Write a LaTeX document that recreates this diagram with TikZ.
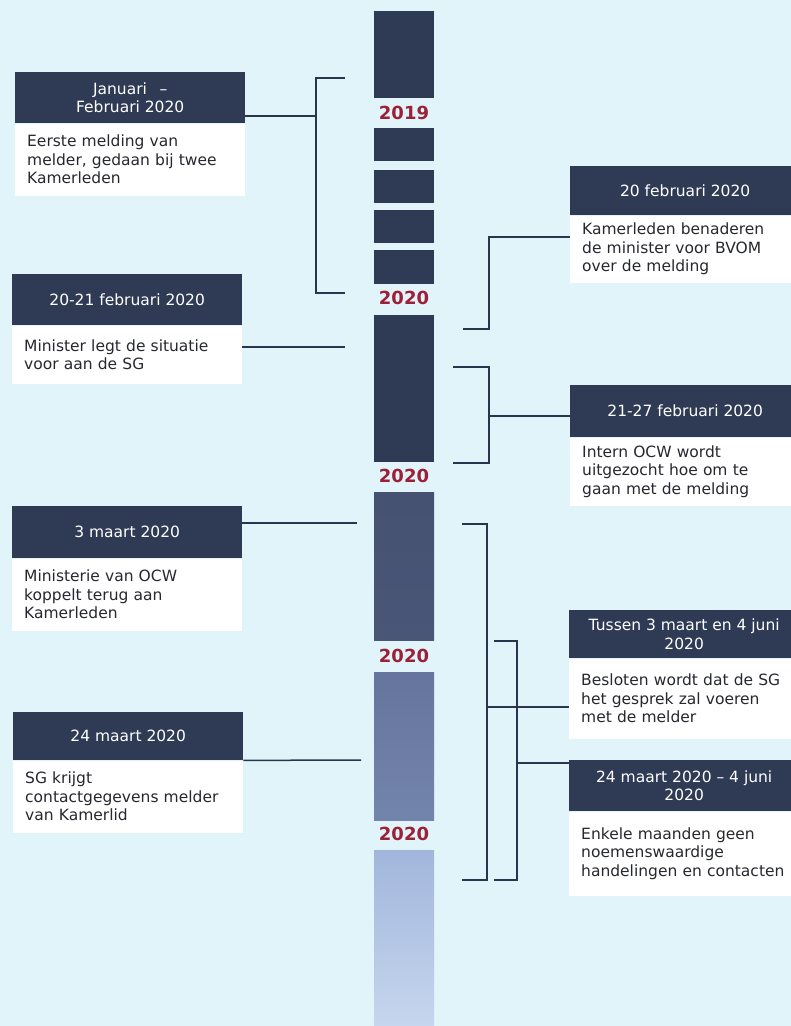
\documentclass[tikz,border=0pt]{standalone}
\usepackage{fontspec}
\setmainfont{DejaVu Sans}
\definecolor{bgcyan}{HTML}{E1F4FA}
\definecolor{navy}{HTML}{2F3A55}
\definecolor{yearred}{HTML}{9C2036}
\definecolor{linenavy}{HTML}{2A344C}
\definecolor{bodytext}{HTML}{26282F}
\definecolor{barmid}{HTML}{4A5677}
\definecolor{barlight}{HTML}{6878A0}
\definecolor{barpale}{HTML}{A2B6DC}
\definecolor{barfade}{HTML}{C6D6EE}

\begin{document}
\begin{tikzpicture}[x=1pt,y=-1pt,
    head/.style={fill=navy,text=white,minimum width=230pt,inner sep=0pt,align=center,
      anchor=north west,font=\fontsize{15.5}{18.5}\selectfont},
    body/.style={fill=white,text=bodytext,minimum width=230pt,text width=206pt,
      inner xsep=12pt,inner ysep=0pt,align=left,anchor=north west,
      font=\fontsize{15.5}{18.5}\selectfont},
    year/.style={text=yearred,inner sep=0pt,font=\bfseries\fontsize{18}{20}\selectfont},
    link/.style={draw=linenavy,line width=1.5pt}]
  \path[use as bounding box,fill=bgcyan] (0,0) rectangle (791,1026);

  % Timeline bar
  \fill[navy] (374,11) rectangle (434,98);
  \fill[navy] (374,128) rectangle (434,161);
  \fill[navy] (374,170) rectangle (434,203);
  \fill[navy] (374,210) rectangle (434,243);
  \fill[navy] (374,250) rectangle (434,284);
  \fill[navy] (374,315) rectangle (434,462);
  \shade[top color=barmid!85!navy,bottom color=barmid] (374,492) rectangle (434,640);
  \shade[top color=barlight!90!barmid,bottom color=barlight!80!barpale] (374,672) rectangle (434,820);
  \shade[top color=barpale,bottom color=barfade] (374,850) rectangle (434,1026);

  \node[year] (y1) at (404,113) {2019};
  \node[year] (y2) at (404,298) {2020};
  \node[year] (y3) at (404,476) {2020};
  \node[year] (y4) at (404,656) {2020};
  \node[year] (y5) at (404,834) {2020};

  % Left boxes
  \node[head,minimum height=51pt] (h1) at (15,72) {Januari \enspace–\\Februari 2020};
  \node[body,minimum height=72pt] (b1) at (h1.south west) {Eerste melding van\\melder, gedaan bij twee\\Kamerleden};
  \node[head,minimum height=51pt] (h2) at (12,274) {20-21 februari 2020};
  \node[body,minimum height=58pt] (b2) at (h2.south west) {Minister legt de situatie\\voor aan de SG};
  \node[head,minimum height=52pt] (h3) at (12,506) {3 maart 2020};
  \node[body,minimum height=72pt] (b3) at (h3.south west) {Ministerie van OCW\\koppelt terug aan\\Kamerleden};
  \node[head,minimum height=48pt] (h4) at (13,712) {24 maart 2020};
  \node[body,minimum height=72pt] (b4) at (h4.south west) {SG krijgt\\contactgegevens melder\\van Kamerlid};

  % Right boxes
  \node[head,minimum height=49pt] (h5) at (570,166) {20 februari 2020};
  \node[body,minimum height=67pt] (b5) at (h5.south west) {Kamerleden benaderen\\de minister voor BVOM\\over de melding};
  \node[head,minimum height=52pt] (h6) at (570,385) {21-27 februari 2020};
  \node[body,minimum height=68pt] (b6) at (h6.south west) {Intern OCW wordt\\uitgezocht hoe om te\\gaan met de melding};
  \node[head,minimum height=48pt] (h7) at (569,610) {Tussen 3 maart en 4 juni\\2020};
  \node[body,minimum height=80pt] (b7) at (h7.south west) {Besloten wordt dat de SG\\het gesprek zal voeren\\met de melder};
  \node[head,minimum height=51pt] (h8) at (569,760) {24 maart 2020 – 4 juni\\2020};
  \node[body,minimum height=84pt] (b8) at (h8.south west) {Enkele maanden geen\\noemenswaardige\\handelingen en contacten};

  % Connectors
  \coordinate (k1t) at (345,78);
  \coordinate (k1) at (316,116);
  \coordinate (k1b) at (345,293);
  \draw[link] (k1t) -| (k1) |- (k1b);
  \draw[link] (h1.east |- k1) -- (k1);

  \coordinate (k2) at (345,347);
  \draw[link] (b2.east |- k2) -- (k2);
  \coordinate (k3) at (357,523);
  \draw[link] (h3.east |- k3) -- (k3);
  \coordinate (k4) at (361,760);
  \draw[link] (b4.north east) -- (k4);

  \coordinate (k5a) at (489,237);
  \coordinate (k5) at (463,329);
  \draw[link] (b5.west |- k5a) -- (k5a) |- (k5);

  \coordinate (k6t) at (453,367);
  \coordinate (k6) at (489,416);
  \coordinate (k6b) at (453,463);
  \draw[link] (k6t) -| (k6) |- (k6b);
  \draw[link] (k6) -- (h6.west |- k6);

  \coordinate (k7t) at (462,524);
  \coordinate (k7) at (487,707);
  \coordinate (k7b) at (462,880);
  \draw[link] (k7t) -| (k7) |- (k7b);
  \draw[link] (k7) -- (b7.west |- k7);

  \coordinate (k8t) at (494,641);
  \coordinate (k8) at (517,763);
  \coordinate (k8b) at (494,880);
  \draw[link] (k8t) -| (k8) |- (k8b);
  \draw[link] (k8) -- (h8.west |- k8);
\end{tikzpicture}
\end{document}
